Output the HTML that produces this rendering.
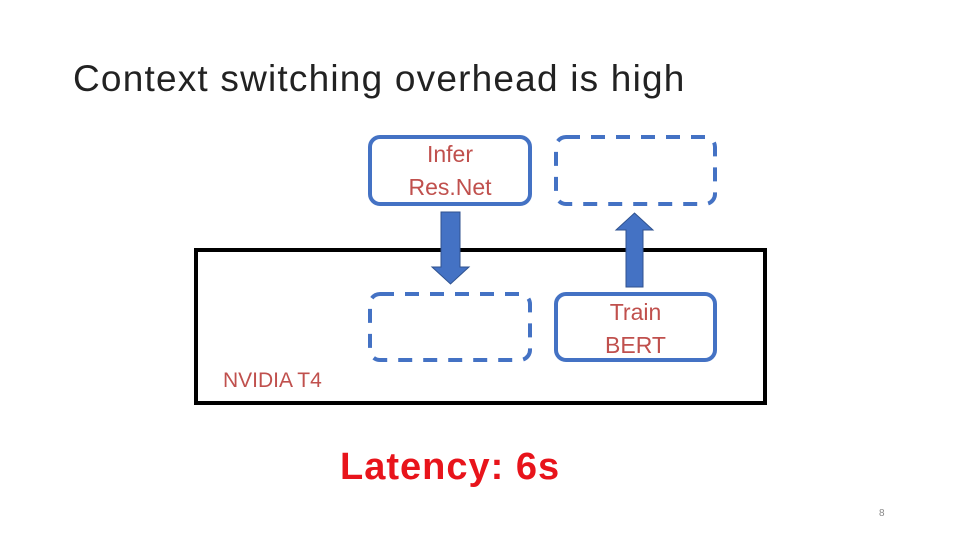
<!DOCTYPE html>
<html><head><style>
body{margin:0;width:960px;height:540px;background:#fff;overflow:hidden;position:relative;font-family:"Liberation Sans",sans-serif}
.t{position:absolute;white-space:nowrap}
</style></head><body>
<div class="t" style="left:73px;top:58px;font-size:37px;color:#222;letter-spacing:1.2px">Context switching overhead is high</div>
<svg width="960" height="540" style="position:absolute;left:0;top:0">
<rect x="196" y="250" width="569" height="153" fill="none" stroke="#000" stroke-width="4"/>
<g fill="none" stroke="#4472C4" stroke-width="4">
<rect x="370" y="137" width="160" height="67" rx="10"/>
<rect x="556" y="137" width="159" height="67" rx="10" stroke-dasharray="14,11"/>
<rect x="370" y="294" width="160" height="66" rx="10" stroke-dasharray="14,11"/>
<rect x="556" y="294" width="159" height="66" rx="10" fill="#fff"/>
</g>
<polygon points="441,212 460,212 460,267 469,267 450.5,284 432,267 441,267" fill="#4472C4" stroke="#2F528F" stroke-width="1"/>
<polygon points="626,287 643,287 643,230 653,230 634.5,213 616,230 626,230" fill="#4472C4" stroke="#2F528F" stroke-width="1"/>
</svg>
<div class="t" style="left:370px;width:160px;text-align:center;top:138px;font-size:23px;line-height:33px;color:#C0504D">Infer<br>Res.Net</div>
<div class="t" style="left:556px;width:159px;text-align:center;top:296px;font-size:23px;line-height:33px;color:#C0504D">Train<br>BERT</div>
<div class="t" style="left:223px;top:369px;font-size:21px;color:#C0504D">NVIDIA T4</div>
<div class="t" style="left:340px;top:446px;font-size:38px;font-weight:bold;color:#E8141B;letter-spacing:1px">Latency: 6s</div>
<div class="t" style="left:879px;top:508px;font-size:10px;color:#888">8</div>
</body></html>
